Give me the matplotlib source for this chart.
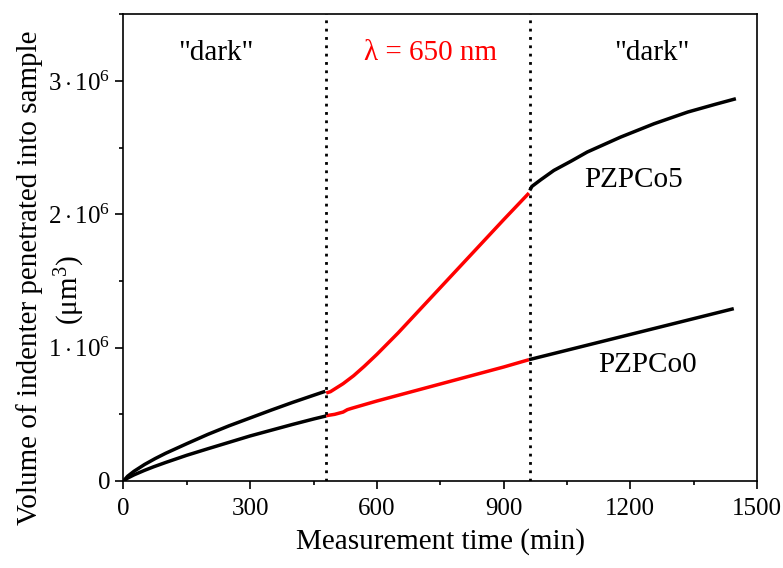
import matplotlib
matplotlib.use("Agg")
import matplotlib.pyplot as plt
from matplotlib.ticker import MultipleLocator, FixedLocator

plt.rcParams['font.family'] = ['Liberation Serif', 'DejaVu Serif']
plt.rcParams['mathtext.fontset'] = 'custom'
plt.rcParams['mathtext.rm'] = 'Liberation Serif'
plt.rcParams['mathtext.it'] = 'Liberation Serif:italic'

# PZPCo5 (values in units of 1e6 um^3)
t5_dark1 = [0, 10, 25, 50, 75, 100, 150, 200, 250, 300, 350, 400, 450, 478]
v5_dark1 = [0, 0.036, 0.073, 0.124, 0.168, 0.208, 0.28, 0.35, 0.414, 0.473, 0.532, 0.589, 0.643, 0.673]
t5_light = [480, 490, 500, 520, 545, 570, 600, 650, 700, 750, 800, 850, 900, 960]
v5_light = [0.66, 0.67, 0.69, 0.73, 0.79, 0.86, 0.95, 1.11, 1.28, 1.45, 1.62, 1.79, 1.96, 2.16]
t5_dark2 = [962, 967, 988, 1019, 1060, 1098, 1177, 1256, 1336, 1400, 1450]
v5_dark2 = [2.18, 2.21, 2.26, 2.33, 2.40, 2.468, 2.58, 2.68, 2.768, 2.825, 2.868]

# PZPCo0
t0_dark1 = [0, 10, 25, 50, 71, 100, 150, 200, 250, 300, 350, 400, 450, 480]
v0_dark1 = [0, 0.022, 0.046, 0.080, 0.106, 0.139, 0.193, 0.242, 0.290, 0.338, 0.381, 0.424, 0.465, 0.488]
t0_light = [480, 500, 520, 530, 540, 600, 700, 800, 900, 960]
v0_light = [0.49, 0.50, 0.517, 0.535, 0.545, 0.60, 0.685, 0.77, 0.855, 0.91]
t0_dark2 = [960, 1050, 1150, 1250, 1350, 1445]
v0_dark2 = [0.91, 0.981, 1.06, 1.139, 1.218, 1.293]

light_on = 480
light_off = 962

yticks = [0, 1e6, 2e6, 3e6]
ytick_labels = ['0', r'$1\cdot10^{6}$', r'$2\cdot10^{6}$', r'$3\cdot10^{6}$']

fig = plt.figure(figsize=(7.83, 5.68), dpi=100)
ax = fig.add_axes([0.1577, 0.1532, 0.8091, 0.8213])

lw = 2.5
for t, v, c in [(t5_dark1, v5_dark1, 'black'), (t5_light, v5_light, 'red'),
                (t5_dark2, v5_dark2, 'black'), (t0_dark1, v0_dark1, 'black'),
                (t0_light, v0_light, 'red'), (t0_dark2, v0_dark2, 'black')]:
    ax.plot(t, [x * 1e6 for x in v], color=c, lw=lw, solid_capstyle='butt')

for xv in [light_on, light_off]:
    ax.axvline(xv, color='black', lw=2, linestyle=(0, (1, 2)))

ax.set_xlim(0, 1500)
ax.set_ylim(0, 3.5e6)
ax.xaxis.set_major_locator(MultipleLocator(300))
ax.xaxis.set_minor_locator(MultipleLocator(150))
ax.yaxis.set_major_locator(FixedLocator(yticks))
ax.set_yticklabels(ytick_labels)
ax.yaxis.set_minor_locator(MultipleLocator(0.5e6))
ax.tick_params(which='both', direction='out', top=False, right=False, labelsize=18, width=1.2)
ax.tick_params(axis='x', pad=6)
ax.tick_params(which='major', length=6)
ax.tick_params(which='minor', length=3)
for s in ax.spines.values():
    s.set_linewidth(1.2)

ax.set_xlabel('Measurement time (min)', fontsize=21, labelpad=6)
# y label: two lines, the second one sits between the tick labels
ax.set_ylabel('Volume of indenter penetrated into sample', fontsize=21)
ax.yaxis.label.set_va('center')
ax.yaxis.set_label_coords(-0.148, 0.435)
ax.text(-0.084, 0.41, '(μm$^3$)', transform=ax.transAxes, rotation=90,
        fontsize=21, ha='center', va='center')

ax.text(219, 3.21e6, '"dark"', fontsize=21, ha='center', va='center')
ax.text(727, 3.21e6, 'λ = 650 nm', fontsize=21, ha='center', va='center', color='red')
ax.text(1251, 3.21e6, '"dark"', fontsize=21, ha='center', va='center')
ax.text(1208, 2.26e6, 'PZPCo5', fontsize=21, ha='center', va='center')
ax.text(1241, 0.868e6, 'PZPCo0', fontsize=21, ha='center', va='center')

fig.savefig('out.png', dpi=100)
